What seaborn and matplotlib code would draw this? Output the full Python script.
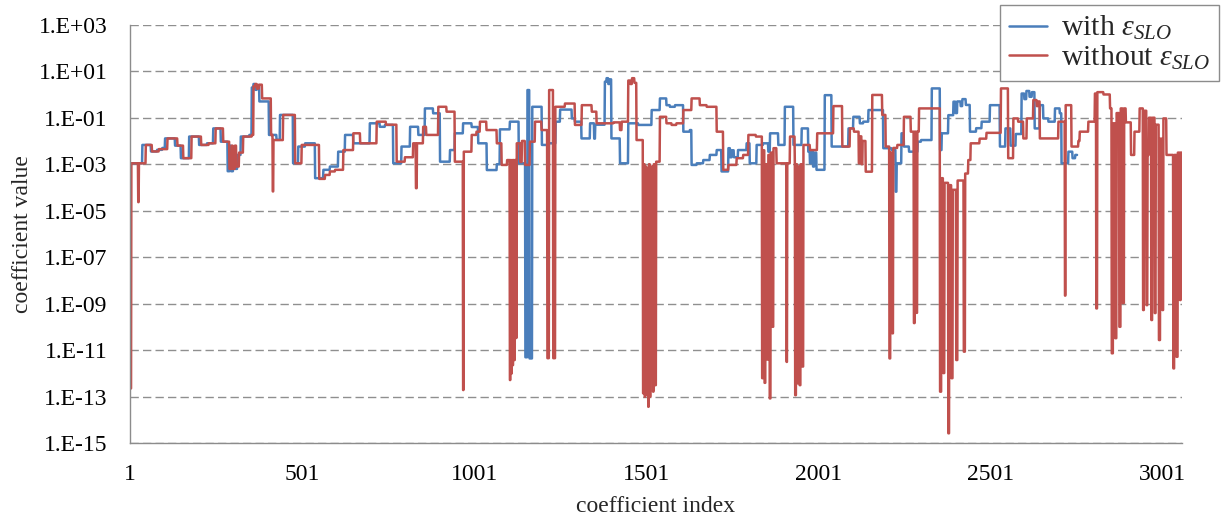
import numpy as np
import pandas as pd
import matplotlib
matplotlib.use("Agg")
import matplotlib.pyplot as plt
import seaborn as sns
from matplotlib.ticker import FixedLocator, FixedFormatter, FuncFormatter, NullLocator

# ---------------- data ----------------
# step series: start index of each constant run, and log10 of the coefficient value on that run
with_start = [1, 37, 62, 80, 95, 103, 132, 149, 173, 202, 225, 243, 265, 285, 291, 295, 301, 306, 313, 323,
              348, 355, 360, 365, 370, 377, 405, 427, 437, 475, 490, 510, 539, 563, 582, 606, 626, 650, 698, 727,
              742, 766, 790, 815, 839, 858, 882, 902, 931, 945, 969, 994, 1013, 1038, 1067, 1076, 1105, 1131, 1150, 1156,
              1162, 1170, 1198, 1215, 1238, 1251, 1285, 1294, 1313, 1338, 1350, 1353, 1381, 1386, 1391, 1395, 1400, 1425, 1449, 1478,
              1517, 1541, 1560, 1570, 1585, 1609, 1628, 1633, 1648, 1667, 1686, 1706, 1720, 1740, 1745, 1750, 1756, 1768, 1793, 1802,
              1822, 1841, 1856, 1861, 1885, 1904, 1929, 1953, 1972, 1977, 1981, 1986, 1990, 1996, 2020, 2040, 2089, 2103, 2122, 2132,
              2147, 2190, 2214, 2226, 2229, 2243, 2250, 2265, 2290, 2300, 2331, 2355, 2360, 2379, 2394, 2400, 2405, 2415, 2420, 2430,
              2442, 2460, 2476, 2500, 2529, 2545, 2560, 2575, 2592, 2600, 2606, 2615, 2622, 2630, 2645, 2655, 2670, 2689, 2703, 2708,
              2728, 2740, 2748]
with_log = [-2.96, -2.17, -2.45, -2.38, -2.3, -1.89, -2.2, -2.74, -1.81, -2.17, -2.1, -1.46, -2.03, -3.3, -2.2, -3.3, -2.3, -3.2, -2.6, -1.81,
            -1.74, 0.3, 0.45, 0.2, 0.4, -0.3, -1.74, -1.95, -0.88, -2.96, -2.24, -2.1, -3.6, -3.24, -3.1, -2.46, -1.74, -2.1, -1.24, -1.39,
            -1.31, -2.96, -2.24, -1.39, -1.74, -0.6, -0.81, -2.89, -2.39, -1.67, -1.24, -1.4, -2.1, -3.25, -3.0, -1.5, -1.17, -2.96, -11.3, 0.19,
            -11.35, -0.53, -2.17, -2.1, -1.17, -0.65, -1.03, -1.17, -1.89, -1.24, -1.9, -1.3, 0.55, 0.7, 0.45, 0.65, -1.89, -2.96, -1.24, -1.31,
            -0.67, -0.17, -0.46, -0.53, -0.46, -1.6, -1.53, -3.03, -2.96, -2.82, -2.6, -2.39, -3.31, -2.31, -2.7, -2.4, -2.7, -2.39, -2.1, -2.96,
            -2.17, -2.1, -2.46, -1.67, -2.17, -0.53, -2.17, -1.46, -2.46, -2.96, -2.4, -3.1, -2.5, -3.24, -0.03, -2.24, -1.46, -0.96, -1.24, -1.17,
            -0.67, -2.31, -2.39, -4.18, -2.96, -1.67, -2.24, -2.46, -2.03, -1.96, 0.26, -2.39, -1.67, -0.89, -0.31, -0.8, -0.3, -0.5, -0.2, -0.45,
            -1.6, -1.45, -1.17, -0.46, -2.24, -1.46, -2.2, -1.7, 0.04, -0.2, 0.15, -0.1, 0.1, -1.46, -0.46, -1.03, -1.17, -0.6, -0.81, -2.96,
            -2.46, -2.74, -2.6]
with_end = 2753

without_start = [1, 5, 25, 27, 47, 65, 85, 110, 139, 156, 180, 208, 230, 250, 272, 290, 297, 300, 306, 310,
                 318, 330, 355, 360, 365, 370, 376, 385, 411, 416, 418, 446, 481, 500, 551, 568, 582, 597, 621, 650,
                 670, 718, 745, 776, 800, 824, 832, 835, 853, 862, 897, 921, 945, 969, 971, 994, 1008, 1018, 1037, 1067,
                 1081, 1097, 1105, 1107, 1109, 1111, 1113, 1115, 1118, 1120, 1123, 1125, 1135, 1140, 1149, 1163, 1178, 1197, 1214, 1219,
                 1231, 1237, 1265, 1294, 1314, 1343, 1357, 1406, 1425, 1430, 1449, 1455, 1460, 1467, 1473, 1492, 1494, 1497, 1499, 1502,
                 1504, 1507, 1509, 1512, 1514, 1521, 1523, 1527, 1530, 1541, 1560, 1575, 1589, 1609, 1633, 1657, 1677, 1706, 1725, 1740,
                 1764, 1783, 1798, 1820, 1838, 1841, 1845, 1848, 1853, 1856, 1860, 1863, 1868, 1871, 1880, 1909, 1911, 1919, 1933, 1934,
                 1937, 1940, 1943, 1947, 1950, 1955, 1958, 1977, 1998, 2045, 2071, 2093, 2105, 2119, 2122, 2127, 2130, 2139, 2158, 2187,
                 2197, 2208, 2211, 2216, 2219, 2231, 2250, 2270, 2279, 2282, 2286, 2289, 2294, 2355, 2359, 2364, 2368, 2379, 2382, 2388,
                 2392, 2402, 2406, 2424, 2428, 2437, 2444, 2470, 2490, 2532, 2553, 2568, 2582, 2597, 2607, 2626, 2636, 2640, 2645, 2699,
                 2718, 2720, 2737, 2757, 2761, 2786, 2805, 2809, 2812, 2830, 2849, 2854, 2858, 2864, 2868, 2876, 2880, 2886, 2890, 2895,
                 2910, 2920, 2935, 2945, 2948, 2955, 2958, 2962, 2969, 2972, 2979, 2982, 2991, 2995, 3001, 3004, 3013, 3033, 3036, 3042,
                 3046, 3052, 3055]
without_log = [-12.64, -2.96, -4.63, -2.96, -2.17, -2.45, -2.35, -1.89, -2.2, -2.74, -1.81, -2.17, -2.1, -1.46, -2.03, -3.2, -2.2, -3.2, -2.2, -3.1,
               -2.5, -1.81, -1.74, 0.35, 0.45, 0.25, 0.42, -0.17, -1.74, -4.17, -1.96, -0.88, -2.96, -2.17, -3.63, -3.46, -3.31, -3.24, -2.39, -1.67,
               -2.1, -1.17, -1.3, -2.89, -2.7, -2.1, -4.03, -2.1, -1.39, -1.74, -0.53, -0.74, -2.89, -12.71, -2.46, -1.74, -1.6, -1.17, -1.53, -2.1,
               -3.03, -2.82, -12.28, -2.82, -12.0, -2.82, -11.64, -2.82, -11.42, -2.82, -10.47, -2.1, -2.9, -2.0, -3.03, -2.03, -1.17, -1.53, -11.34, 0.19,
               -11.34, -0.53, -0.39, -1.31, -0.46, -0.74, -1.24, -1.2, -1.53, -1.17, 0.6, 0.45, 0.7, 0.5, -1.96, -12.85, -3.0, -13.0, -3.1, -12.9,
               -3.2, -13.43, -3.0, -13.0, -3.1, -12.78, -3.0, -12.5, -2.89, -0.96, -1.24, -1.31, -1.24, -0.67, -0.17, -0.46, -0.53, -1.6, -3.24, -3.03,
               -2.74, -2.6, -1.74, -1.81, -12.2, -2.4, -12.4, -3.0, -11.4, -2.6, -13.07, -2.5, -9.99, -2.31, -2.96, -11.5, -2.96, -1.81, -3.03, -12.93,
               -3.0, -12.42, -3.1, -12.5, -3.0, -11.7, -2.17, -2.39, -1.67, -0.5, -2.24, -1.46, -1.6, -2.96, -1.8, -3.0, -2.0, -3.32, -0.02, -0.88,
               -2.24, -11.35, -2.5, -10.27, -2.3, -2.17, -0.96, -1.6, -9.83, -1.6, -9.39, -1.6, -0.6, -12.78, -3.6, -11.98, -3.8, -14.57, -3.9, -12.2,
               -4.1, -11.42, -3.7, -11.06, -3.4, -2.82, -2.1, -1.9, -1.65, 0.26, -2.74, -1.03, -1.17, -1.89, -1.03, -0.24, -0.5, -0.3, -1.89, -1.17,
               -8.65, -0.46, -2.24, -2.0, -1.6, -1.17, 0.04, -9.2, 0.1, 0.0, -0.6, -11.13, -1.24, -10.48, -0.8, -9.99, -0.6, -8.97, -0.6, -1.2,
               -2.6, -1.6, -0.6, -9.27, -0.7, -9.06, -2.6, -1.0, -9.7, -1.0, -9.4, -1.3, -10.56, -1.9, -9.27, -1.03, -2.6, -11.78, -2.6, -11.28,
               -2.5, -8.84, -2.5]
without_end = 3058

series_names = ["with $\\varepsilon_{SLO}$", "without $\\varepsilon_{SLO}$"]
series_colors = ["#4A7EBB", "#C0504D"]
x_ticks = [1, 251, 501, 751, 1001, 1251, 1501, 1751, 2001, 2251, 2501, 2751, 3001]
x_tick_labels = ["1", "", "501", "", "1001", "", "1501", "", "2001", "", "2501", "", "3001"]
y_tick_exponents = [3, 1, -1, -3, -5, -7, -9, -11, -13, -15]


def expand(starts, logs, end):
    starts = np.asarray(starts)
    lens = np.diff(np.append(starts, end + 1))
    idx = np.arange(starts[0], end + 1)
    vals = 10.0 ** np.repeat(np.asarray(logs, dtype=float), lens)
    return idx, vals


xi_w, yv_w = expand(with_start, with_log, with_end)
xi_o, yv_o = expand(without_start, without_log, without_end)
df = pd.concat([
    pd.DataFrame({"index": xi_w, "value": yv_w, "series": series_names[0]}),
    pd.DataFrame({"index": xi_o, "value": yv_o, "series": series_names[1]}),
], ignore_index=True)

# ---------------- style ----------------
sns.set_theme(style="white")
plt.rcParams["font.family"] = ["Liberation Serif", "DejaVu Serif"]
plt.rcParams["mathtext.fontset"] = "custom"
plt.rcParams["mathtext.rm"] = "Liberation Serif"
plt.rcParams["mathtext.it"] = "Liberation Serif:italic"

fig = plt.figure(figsize=(12.24, 5.17), dpi=100)
ax = fig.add_axes([130 / 1224, 1 - 443.3 / 517, (1182 - 130) / 1224, (443.3 - 24.7) / 517])

sns.lineplot(data=df, x="index", y="value", hue="series", palette=series_colors,
             estimator=None, sort=False, linewidth=1.8, ax=ax, legend=True)

ax.set_yscale("log")
ax.set_ylim(1e-15, 1e3)
ax.set_xlim(1, without_end)
ax.yaxis.set_major_locator(FixedLocator([10.0 ** e for e in y_tick_exponents]))
ax.yaxis.set_minor_locator(NullLocator())
ax.yaxis.set_major_formatter(FuncFormatter(lambda v, p: "1.E%+03d" % int(round(np.log10(v)))))
ax.xaxis.set_major_locator(FixedLocator(x_ticks))
ax.xaxis.set_major_formatter(FixedFormatter(x_tick_labels))

ax.yaxis.grid(True, linestyle=(0, (6, 3)), color="#8f8f8f", linewidth=1.0)
ax.xaxis.grid(False)
for s in ["top", "right"]:
    ax.spines[s].set_visible(False)
for s in ["left", "bottom"]:
    ax.spines[s].set_color("#8c8c8c")
    ax.spines[s].set_linewidth(1.0)
ax.tick_params(axis="both", which="major", direction="out", length=6, width=1,
               color="#8c8c8c", labelsize=17, labelcolor="black")
ax.tick_params(axis="y", pad=10)
ax.tick_params(axis="x", pad=9)

ax.set_xlabel("coefficient index", fontsize=17, labelpad=8)
ax.set_ylabel("coefficient value", fontsize=17, labelpad=4)

handles, labels = ax.get_legend_handles_labels()
ax.get_legend().remove()
leg = ax.legend(handles, labels, loc="upper right", bbox_to_anchor=(1219 / 1224, 1 - 5 / 517),
                bbox_transform=fig.transFigure, frameon=True, fancybox=False, framealpha=1,
                edgecolor="#8c8c8c", fontsize=21.5, handlelength=1.3, borderpad=0.3,
                labelspacing=0.05, handletextpad=0.45, borderaxespad=0)
leg.get_frame().set_linewidth(1.0)
for line in leg.get_lines():
    line.set_linewidth(1.8)

fig.savefig("out.png", dpi=100)
